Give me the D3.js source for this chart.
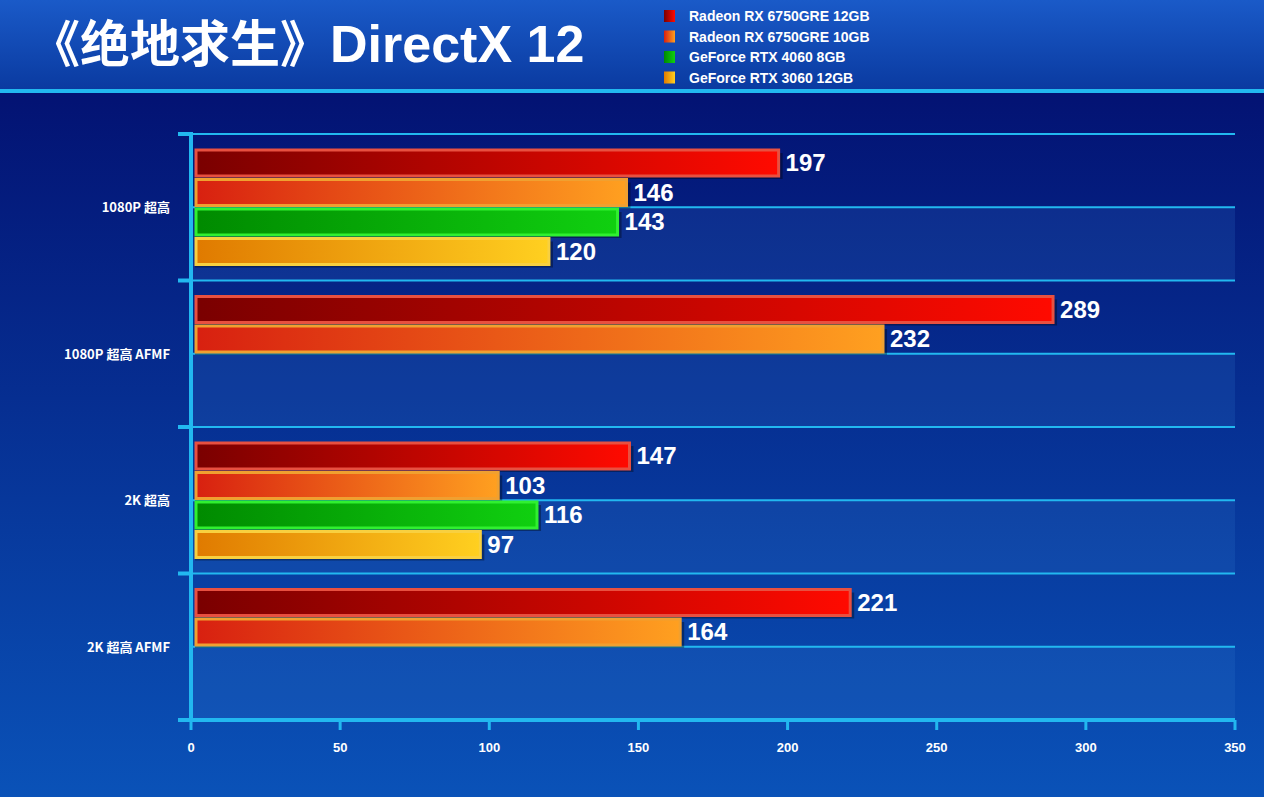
<!DOCTYPE html><html><head><meta charset="utf-8"><script src="https://cdn.jsdelivr.net/npm/d3@7"></script>
<style>body{margin:0;background:#06208a}svg{display:block}</style></head><body><svg id="c" width="1264" height="797"></svg><script>
const categories=["1080P 超高","1080P 超高 AFMF","2K 超高","2K 超高 AFMF"];
const seriesNames=["Radeon RX 6750GRE 12GB","Radeon RX 6750GRE 10GB","GeForce RTX 4060 8GB","GeForce RTX 3060 12GB"];
const rx12=[197,289,147,221];
const rx10=[146,232,103,164];
const rtx4060=[143,null,116,null];
const rtx3060=[120,null,97,null];
const ticks=[0,50,100,150,200,250,300,350];
const seriesVals=[rx12,rx10,rtx4060,rtx3060];
const grads=[["#7a0000","#ff0a00","#e85040"],["#d82010","#ffa020","#f0a030"],["#008a00","#10d010","#30f030"],["#e07a00","#ffd020","#f8d040"]];
const svg=d3.select("#c");const defs=svg.append("defs");
const bg=defs.append("linearGradient").attr("id","bg").attr("x1",0).attr("y1",0).attr("x2",0).attr("y2",1);
bg.append("stop").attr("offset",0).attr("stop-color","#020a6a");bg.append("stop").attr("offset",1).attr("stop-color","#0a52b8");
const hd=defs.append("linearGradient").attr("id","hd").attr("x1",0).attr("y1",0).attr("x2",0).attr("y2",1);
hd.append("stop").attr("offset",0).attr("stop-color","#1a5ac8");hd.append("stop").attr("offset",1).attr("stop-color","#0a3aa0");
grads.forEach((g,i)=>{const lg=defs.append("linearGradient").attr("id","g"+i);lg.append("stop").attr("offset",0).attr("stop-color",g[0]);lg.append("stop").attr("offset",1).attr("stop-color",g[1]);});
svg.append("rect").attr("width",1264).attr("height",797).attr("fill","url(#bg)");
svg.append("rect").attr("width",1264).attr("height",90).attr("fill","url(#hd)");
svg.append("rect").attr("y",89).attr("width",1264).attr("height",4).attr("fill","#22b8f0");
const tt=svg.append("text").attr("x",30).attr("y",62).attr("fill","#fff").attr("font-weight","bold").attr("font-size",50);
tt.append("tspan").attr("font-family","Noto Sans CJK SC").text("《绝地求生》");
tt.append("tspan").attr("font-family","Liberation Sans, Arial").attr("font-size",52).text("DirectX 12");
seriesNames.forEach((n,i)=>{const y=16+i*20.5;svg.append("rect").attr("x",664).attr("y",y-6).attr("width",11).attr("height",12).attr("fill","url(#g"+i+")");
svg.append("text").attr("x",689).attr("y",y+5).attr("fill","#fff").attr("font-family","Liberation Sans, Arial").attr("font-weight","bold").attr("font-size",14).text(n);});
const x=d3.scaleLinear().domain([0,350]).range([191,1235]);
const y=d3.scaleBand().domain(categories).range([134,720]);
const g=svg.append("g");
categories.forEach(c=>{const t=y(c),h=y.bandwidth();
g.append("rect").attr("x",191).attr("y",t+h/2).attr("width",1044).attr("height",h/2).attr("fill","#3a80d0").attr("opacity",0.18);
[t,t+h/2].forEach(yy=>g.append("line").attr("x1",191).attr("x2",1235).attr("y1",yy).attr("y2",yy).attr("stroke","#22b8f0").attr("stroke-width",2));});
g.append("line").attr("x1",191).attr("x2",1235).attr("y1",720).attr("y2",720).attr("stroke","#22b8f0").attr("stroke-width",4);
g.append("line").attr("x1",191).attr("x2",191).attr("y1",132).attr("y2",722).attr("stroke","#22b8f0").attr("stroke-width",4);
categories.concat([null]).forEach((c,i)=>{const yy=c?y(c):720;g.append("line").attr("x1",178).attr("x2",191).attr("y1",yy).attr("y2",yy).attr("stroke","#22b8f0").attr("stroke-width",4);});
ticks.forEach(t=>{g.append("line").attr("x1",x(t)).attr("x2",x(t)).attr("y1",720).attr("y2",730).attr("stroke","#22b8f0").attr("stroke-width",3);
g.append("text").attr("x",x(t)).attr("y",752).attr("text-anchor","middle").attr("fill","#fff").attr("font-family","Liberation Sans, Arial").attr("font-weight","bold").attr("font-size",13).text(t);});
categories.forEach((c,ci)=>{g.append("text").attr("x",170).attr("y",y(c)+y.bandwidth()/2+5).attr("text-anchor","end").attr("fill","#fff").attr("font-family","Noto Sans CJK SC").attr("font-weight","bold").attr("font-size",13).text(c);
seriesVals.forEach((s,si)=>{const v=s[ci];if(v==null)return;const by=y(c)+16+si*29.5;
g.append("rect").attr("x",x(0)+4).attr("y",by+3).attr("width",x(v)-x(0)).attr("height",26).attr("fill","#000").attr("opacity",0.35);
g.append("rect").attr("x",x(0)+5).attr("y",by).attr("width",x(v)-x(0)-5).attr("height",26).attr("fill","url(#g"+si+")").attr("stroke",grads[si][2]).attr("stroke-width",3);
g.append("text").attr("x",x(v)+7).attr("y",by+21).attr("fill","#fff").attr("font-family","Liberation Sans, Arial").attr("font-weight","bold").attr("font-size",24).text(v);});});
</script></body></html>
